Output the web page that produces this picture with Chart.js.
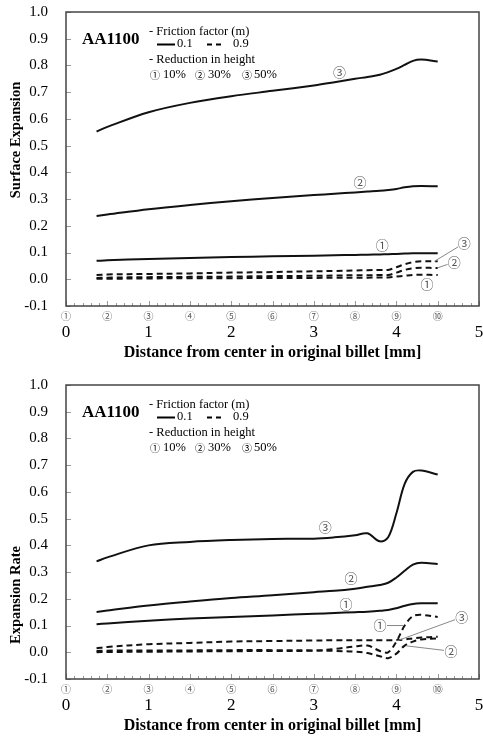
<!DOCTYPE html>
<html>
<head>
<meta charset="utf-8">
<script src="https://cdn.jsdelivr.net/npm/chart.js@4.4.1/dist/chart.umd.min.js"></script>
<style>
    html, body { margin: 0; padding: 0; background: #fff; overflow: hidden; }
    .wrap { position: absolute; left: 0; width: 483px; height: 370px; }
</style>
</head>
<body>
<div class="wrap" style="top:0"><canvas id="surfChart" width="483" height="370"></canvas></div>
<div class="wrap" style="top:373px"><canvas id="rateChart" width="483" height="370"></canvas></div>
<script>
// distance from center in original billet [mm]
const distance = [0.37, 0.5, 1.0, 1.5, 2.0, 2.5, 3.0, 3.25, 3.5, 3.65, 3.8, 3.9, 4.0, 4.1, 4.2, 4.3, 4.5];

// Surface expansion, m = 0.1 (solid) / m = 0.9 (dashed)
const surf10m01 = [0.069, 0.071, 0.076, 0.080, 0.083, 0.086, 0.088, 0.090, 0.091, 0.092, 0.093, 0.094, 0.095, 0.096, 0.097, 0.097, 0.097];
const surf30m01 = [0.237, 0.242, 0.262, 0.278, 0.292, 0.304, 0.315, 0.320, 0.325, 0.328, 0.331, 0.334, 0.338, 0.344, 0.348, 0.349, 0.348];
const surf50m01 = [0.553, 0.570, 0.625, 0.660, 0.685, 0.705, 0.725, 0.737, 0.750, 0.757, 0.765, 0.775, 0.787, 0.802, 0.817, 0.822, 0.815];
const surf10m09 = [0.002, 0.002, 0.003, 0.004, 0.004, 0.005, 0.005, 0.006, 0.006, 0.006, 0.007, 0.007, 0.010, 0.013, 0.016, 0.017, 0.016];
const surf30m09 = [0.005, 0.006, 0.008, 0.009, 0.010, 0.012, 0.013, 0.014, 0.015, 0.015, 0.016, 0.016, 0.025, 0.035, 0.041, 0.043, 0.042];
const surf50m09 = [0.016, 0.018, 0.020, 0.022, 0.025, 0.027, 0.030, 0.031, 0.033, 0.034, 0.035, 0.035, 0.045, 0.056, 0.064, 0.067, 0.067];

// Expansion rate
const rate10m01 = [0.105, 0.108, 0.118, 0.126, 0.132, 0.138, 0.144, 0.147, 0.150, 0.152, 0.155, 0.158, 0.165, 0.174, 0.181, 0.183, 0.183];
const rate30m01 = [0.151, 0.156, 0.175, 0.190, 0.203, 0.213, 0.225, 0.230, 0.238, 0.245, 0.252, 0.260, 0.280, 0.305, 0.328, 0.335, 0.330];
const rate50m01 = [0.340, 0.355, 0.400, 0.413, 0.420, 0.424, 0.425, 0.430, 0.438, 0.445, 0.415, 0.430, 0.520, 0.630, 0.675, 0.680, 0.665];
const rate10m09 = [0.000, 0.001, 0.002, 0.003, 0.004, 0.005, 0.006, 0.012, 0.022, 0.025, 0.005, 0.000, 0.040, 0.100, 0.135, 0.140, 0.132];
const rate30m09 = [0.005, 0.006, 0.007, 0.007, 0.008, 0.008, 0.007, 0.005, 0.002, -0.003, -0.015, -0.022, -0.005, 0.025, 0.040, 0.048, 0.052];
const rate50m09 = [0.015, 0.020, 0.030, 0.035, 0.040, 0.042, 0.044, 0.045, 0.045, 0.045, 0.045, 0.045, 0.046, 0.048, 0.052, 0.055, 0.058];

// tick labels
const yTicks = [-0.1, 0.0, 0.1, 0.2, 0.3, 0.4, 0.5, 0.6, 0.7, 0.8, 0.9, 1.0];
const nodeLabels = ['①', '②', '③', '④', '⑤', '⑥', '⑦', '⑧', '⑨', '⑩', ''];

// circled curve labels: [text, x, y, leader target x, leader target y]
const surfNotes = [
    ['③', 3.31, 0.775], ['②', 3.56, 0.363], ['①', 3.83, 0.127],
    ['③', 4.82, 0.135, 4.46, 0.067], ['②', 4.70, 0.064, 4.50, 0.043], ['①', 4.37, -0.019]
];
const rateNotes = [
    ['③', 3.14, 0.468], ['②', 3.45, 0.277], ['①', 3.39, 0.180],
    ['①', 3.80, 0.100, 4.09, 0.100], ['③', 4.79, 0.131, 4.01, 0.043], ['②', 4.66, 0.004, 4.12, 0.024]
];

const SERIF = "'Liberation Serif', 'Times New Roman', serif";
const CIRC = "'Noto Sans CJK JP', 'DejaVu Sans', sans-serif";

const toPoints = vals => vals.map((v, i) => ({ x: distance[i], y: v }));

const line = (vals, dashed) => ({
    data: toPoints(vals),
    borderColor: '#111',
    borderWidth: 2,
    borderDash: dashed ? [6, 4] : [],
    pointRadius: 0,
    tension: 0.35,
    fill: false
});

// frame, inward ticks, legend block, axis title, curve labels
const decor = {
    id: 'decor',
    afterDatasetsDraw(chart, args, opts) {
        const { ctx, chartArea: a, scales } = chart;
        const xs = scales.x, ys = scales.y;
        ctx.save();

        // inward ticks
        ctx.strokeStyle = '#999';
        ctx.lineWidth = 1;
        ctx.beginPath();
        for (let i = 0; i <= 50; i++) {
            const px = Math.round(xs.getPixelForValue(i / 10)) + 0.5;
            const len = i % 5 === 0 ? 5 : 3;
            ctx.moveTo(px, a.bottom);
            ctx.lineTo(px, a.bottom - len);
        }
        yTicks.forEach(v => {
            const py = Math.round(ys.getPixelForValue(v)) + 0.5;
            ctx.moveTo(a.left, py);
            ctx.lineTo(a.left + 5, py);
        });
        ctx.stroke();

        // frame
        ctx.strokeStyle = '#444';
        ctx.lineWidth = 1.5;
        ctx.strokeRect(a.left, a.top, a.right - a.left, a.bottom - a.top);

        // y axis title (sits off-centre in the original)
        ctx.fillStyle = '#000';
        ctx.save();
        ctx.translate(16, opts.titleY);
        ctx.rotate(-Math.PI / 2);
        ctx.textAlign = 'center';
        ctx.textBaseline = 'middle';
        ctx.font = 'bold 14.5px ' + SERIF;
        ctx.fillText(opts.title, 0, 0);
        ctx.restore();

        // legend block
        ctx.textBaseline = 'middle';
        ctx.textAlign = 'left';
        ctx.font = 'bold 17px ' + SERIF;
        ctx.fillText('AA1100', 82, a.top + 28);
        ctx.font = '12.5px ' + SERIF;
        ctx.fillText('- Friction factor (m)', 149, a.top + 20);
        ctx.fillText('0.1', 177, a.top + 32);
        ctx.fillText('0.9', 233, a.top + 32);
        ctx.fillText('- Reduction in height', 149, a.top + 48);
        ctx.fillText('10%', 163, a.top + 63);
        ctx.fillText('30%', 208, a.top + 63);
        ctx.fillText('50%', 254, a.top + 63);
        ctx.font = '10px ' + CIRC;
        ctx.fillText('①', 150, a.top + 63);
        ctx.fillText('②', 195, a.top + 63);
        ctx.fillText('③', 242, a.top + 63);
        ctx.strokeStyle = '#000';
        ctx.lineWidth = 2;
        ctx.beginPath();
        ctx.moveTo(157, a.top + 32.5); ctx.lineTo(175, a.top + 32.5);
        ctx.stroke();
        ctx.setLineDash([5, 4]);
        ctx.beginPath();
        ctx.moveTo(207, a.top + 32.5); ctx.lineTo(225, a.top + 32.5);
        ctx.stroke();
        ctx.setLineDash([]);

        // curve labels
        ctx.font = '13px ' + CIRC;
        ctx.textAlign = 'center';
        (opts.notes || []).forEach(n => {
            const px = xs.getPixelForValue(n[1]);
            const py = ys.getPixelForValue(n[2]);
            if (n.length > 3) {
                const tx = xs.getPixelForValue(n[3]);
                const ty = ys.getPixelForValue(n[4]);
                const ang = Math.atan2(ty - py, tx - px);
                ctx.strokeStyle = '#888';
                ctx.lineWidth = 1;
                ctx.beginPath();
                ctx.moveTo(px + Math.cos(ang) * 7, py + Math.sin(ang) * 7);
                ctx.lineTo(tx, ty);
                ctx.stroke();
            }
            ctx.fillStyle = '#555';
            ctx.fillText(n[0], px, py);
        });
        ctx.restore();
    }
};

const makeChart = (id, yTitle, titleY, series, notes) => {
    const [s10a, s30a, s50a, s10b, s30b, s50b] = series;
    return new Chart(document.getElementById(id), {
        type: 'line',
        data: {
            datasets: [
                line(s10a, false), line(s30a, false), line(s50a, false),
                line(s10b, true), line(s30b, true), line(s50b, true)
            ]
        },
        options: {
            responsive: false,
            animation: false,
            layout: { padding: { top: 12, right: 4, left: 0, bottom: 0 } },
            plugins: {
                legend: { display: false },
                tooltip: { enabled: false },
                decor: { notes: notes, title: yTitle, titleY: titleY }
            },
            scales: {
                x: {
                    type: 'linear', min: 0, max: 5, weight: 0,
                    grid: { display: false, drawTicks: false },
                    border: { display: false },
                    ticks: {
                        stepSize: 0.5, autoSkip: false, maxRotation: 0, padding: 4,
                        color: '#555', font: { family: CIRC, size: 10 },
                        callback: (v) => nodeLabels[Math.round(v * 2)]
                    },
                    afterFit: s => { s.height = 16; s.paddingLeft = 0; s.paddingRight = 0; }
                },
                x2: {
                    type: 'linear', position: 'bottom', min: 0, max: 5, weight: 1,
                    grid: { display: false, drawTicks: false },
                    border: { display: false },
                    ticks: {
                        stepSize: 1, maxRotation: 0, padding: 0,
                        color: '#000', font: { family: SERIF, size: 17 }
                    },
                    title: {
                        display: true,
                        text: 'Distance from center in original billet [mm]',
                        color: '#000',
                        font: { family: SERIF, size: 16, weight: 'bold' },
                        padding: { top: 0, bottom: 8 }
                    },
                    afterFit: s => { s.height = 48; s.paddingLeft = 0; s.paddingRight = 0; }
                },
                y: {
                    min: -0.1, max: 1.0,
                    grid: { display: false, drawTicks: false },
                    border: { display: false },
                    afterBuildTicks: s => { s.ticks = yTicks.map(v => ({ value: v })); },
                    ticks: {
                        padding: 18, color: '#000',
                        font: { family: SERIF, size: 15 },
                        callback: v => v.toFixed(1)
                    },
                    afterFit: s => { s.width = 66; s.paddingTop = 0; s.paddingBottom = 0; }
                }
            }
        },
        plugins: [decor]
    });
};

makeChart('surfChart', 'Surface Expansion', 140,
    [surf10m01, surf30m01, surf50m01, surf10m09, surf30m09, surf50m09], surfNotes);
makeChart('rateChart', 'Expansion Rate', 222,
    [rate10m01, rate30m01, rate50m01, rate10m09, rate30m09, rate50m09], rateNotes);
</script>
</body>
</html>
